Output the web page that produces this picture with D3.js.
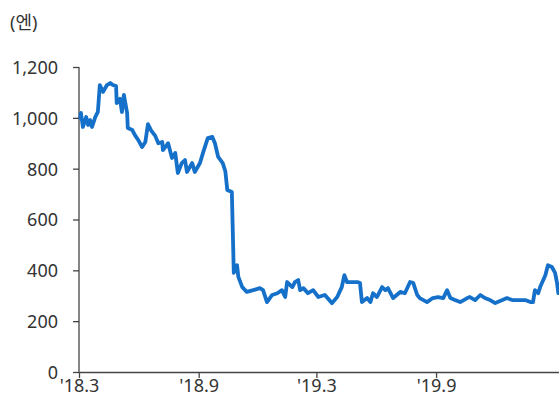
<!DOCTYPE html>
<html>
<head>
<meta charset="utf-8">
<script src="https://cdn.jsdelivr.net/npm/d3@7"></script>
<style>
  body { margin: 0; background: #fff; }
  svg { display: block; }
</style>
</head>
<body>
<svg id="chart" width="559" height="405"></svg>
<script>
// price in yen
const dates = [
  "2018-03-03","2018-03-04","2018-03-07","2018-03-12","2018-03-15","2018-03-18","2018-03-21","2018-03-26","2018-03-30",
  "2018-04-02","2018-04-07","2018-04-13","2018-04-18","2018-04-22","2018-04-27","2018-04-28",
  "2018-05-03","2018-05-06","2018-05-09","2018-05-14","2018-05-15","2018-05-22","2018-05-26","2018-05-31",
  "2018-06-06","2018-06-11","2018-06-15","2018-06-20","2018-06-26",
  "2018-07-01","2018-07-07","2018-07-08","2018-07-16","2018-07-22","2018-07-27","2018-07-31",
  "2018-08-06","2018-08-11","2018-08-14","2018-08-22","2018-08-26",
  "2018-09-03","2018-09-08","2018-09-15","2018-09-22","2018-09-26",
  "2018-10-01","2018-10-08","2018-10-12","2018-10-15","2018-10-22","2018-10-25","2018-10-30",
  "2018-11-01","2018-11-07","2018-11-14","2018-11-24",
  "2018-12-04","2018-12-09","2018-12-15","2018-12-23","2018-12-31",
  "2019-01-07","2019-01-12","2019-01-15","2019-01-23","2019-01-27",
  "2019-02-01","2019-02-04","2019-02-09","2019-02-16","2019-02-24",
  "2019-03-04","2019-03-14","2019-03-25",
  "2019-04-02","2019-04-09","2019-04-13","2019-04-17",
  "2019-05-03","2019-05-07","2019-05-10","2019-05-18","2019-05-23","2019-05-27",
  "2019-06-02","2019-06-10","2019-06-15","2019-06-19","2019-06-27",
  "2019-07-08","2019-07-15","2019-07-23","2019-07-28",
  "2019-08-03","2019-08-07","2019-08-18","2019-08-27",
  "2019-09-04","2019-09-12","2019-09-18","2019-09-23","2019-09-30",
  "2019-10-08","2019-10-19","2019-10-23","2019-10-31",
  "2019-11-08","2019-11-15","2019-11-23",
  "2019-12-01","2019-12-12","2019-12-19","2019-12-27",
  "2020-01-08","2020-01-16","2020-01-24","2020-01-28","2020-01-31",
  "2020-02-05","2020-02-08","2020-02-16","2020-02-20","2020-02-26",
  "2020-03-02","2020-03-05","2020-03-07"
];
const prices = [
  1000,1019,964,1003,972,991,964,1003,1023,
  1129,1102,1129,1137,1129,1125,1058,
  1075,1023,1090,1019,960,952,932,913,
  885,905,975,950,930,
  900,905,873,900,842,862,783,
  822,834,787,822,787,
  822,865,920,925,900,
  846,822,790,716,708,390,420,
  374,334,315,322,
  330,322,275,303,310,
  322,295,354,334,354,
  362,322,330,310,322,
  295,303,271,
  295,334,381,354,
  354,350,275,291,275,310,
  295,334,322,330,291,
  315,310,354,350,
  303,291,275,291,
  295,291,322,291,283,
  275,291,295,283,
  303,291,283,
  271,283,291,283,
  283,283,275,275,322,
  310,334,381,420,413,
  390,350,310
];

const yTicks = [0, 200, 400, 600, 800, 1000, 1200];
const xTickDates = ["2018-03-01", "2018-09-01", "2019-03-01", "2019-09-01"];
const xTickLabels = ["'18.3", "'18.9", "'19.3", "'19.9"];
const unitLabel = "(엔)";

const parse = d3.timeParse("%Y-%m-%d");
const series = dates.map((d, i) => ({date: parse(d), value: prices[i]}));

const svg = d3.select("#chart");
const margin = {left: 79, right: 0, top: 67, bottom: 33};
const width = 559, height = 405;
const fontFam = "'Noto Sans', 'Noto Sans CJK KR', sans-serif";

const x = d3.scaleTime()
  .domain([parse("2018-03-01"), parse("2020-03-08")])
  .range([margin.left, width - margin.right]);
const y = d3.scaleLinear()
  .domain([0, 1200])
  .range([height - margin.bottom, margin.top]);

const axisColor = "#444";
const textColor = "#333";

// y axis
const yAxis = svg.append("g")
  .attr("transform", `translate(${margin.left},0)`)
  .call(d3.axisLeft(y).tickValues(yTicks).tickFormat(d3.format(",")).tickSize(6).tickPadding(15));

// x axis
const xAxis = svg.append("g")
  .attr("transform", `translate(0,${y(0)})`)
  .call(d3.axisBottom(x)
    .tickValues(xTickDates.map(parse))
    .tickFormat((d, i) => xTickLabels[i])
    .tickSize(6).tickPadding(1)
    .tickSizeOuter(0));

[yAxis, xAxis].forEach(g => {
  g.attr("font-family", fontFam).attr("font-size", 18);
  g.select(".domain").attr("stroke", axisColor).attr("stroke-width", 1.3);
  g.selectAll(".tick line").attr("stroke", axisColor).attr("stroke-width", 1.3);
  g.selectAll(".tick text").attr("fill", textColor);
});
yAxis.select(".domain").attr("d", `M0,${y(1200)}V${y(0)}`);
yAxis.selectAll(".tick text").attr("dy", "0.36em");

// unit
svg.append("text")
  .attr("x", 10)
  .attr("y", 29)
  .attr("fill", textColor)
  .attr("font-family", fontFam)
  .attr("font-size", 18)
  .text(unitLabel);

// line
const line = d3.line()
  .x(d => x(d.date))
  .y(d => y(d.value));

svg.append("path")
  .datum(series)
  .attr("fill", "none")
  .attr("stroke", "#1570c9")
  .attr("stroke-width", 3.8)
  .attr("stroke-linejoin", "round")
  .attr("stroke-linecap", "round")
  .attr("d", line);
</script>
</body>
</html>
